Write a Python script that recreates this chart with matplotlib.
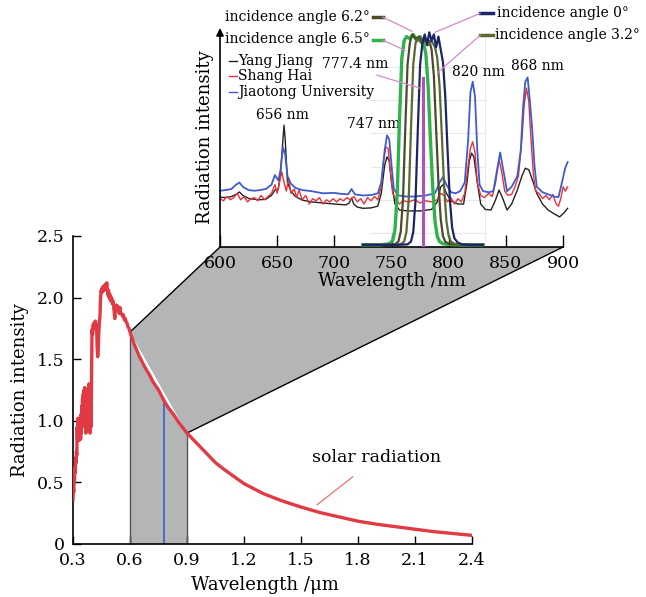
# LIBRARY IMPORT
import matplotlib
matplotlib.use('Agg')
import matplotlib.pyplot as plt
from matplotlib.patches import Polygon
from matplotlib.lines import Line2D
import numpy as np


# DATA
# Solar radiation spectrum (wavelength in um)
solar_wl = [0.300, 0.302, 0.304, 0.306, 0.308, 0.310, 0.312, 0.314, 0.316, 0.318,
            0.320, 0.322, 0.324, 0.326, 0.328, 0.330, 0.332, 0.334, 0.336, 0.338,
            0.340, 0.342, 0.344, 0.346, 0.348, 0.350, 0.352, 0.354, 0.356, 0.358,
            0.360, 0.362, 0.364, 0.366, 0.368, 0.370, 0.372, 0.374, 0.376, 0.378,
            0.380, 0.382, 0.384, 0.386, 0.388, 0.390, 0.392, 0.394, 0.396, 0.398,
            0.400, 0.403, 0.406, 0.409, 0.412, 0.415, 0.418, 0.421, 0.424, 0.427,
            0.430, 0.433, 0.436, 0.439, 0.442, 0.445, 0.448, 0.451, 0.454, 0.457,
            0.460, 0.463, 0.466, 0.469, 0.472, 0.475, 0.478, 0.481, 0.484, 0.487,
            0.490, 0.493, 0.496, 0.499, 0.502, 0.505, 0.508, 0.511, 0.514, 0.517,
            0.520, 0.523, 0.526, 0.529, 0.532, 0.535, 0.538, 0.541, 0.544, 0.547,
            0.550, 0.555, 0.560, 0.565, 0.570, 0.575, 0.580, 0.585, 0.590, 0.595,
            0.600, 0.620, 0.650, 0.680, 0.700, 0.720, 0.750, 0.777, 0.800, 0.830,
            0.860, 0.900, 0.950, 1.000, 1.050, 1.100, 1.200, 1.300, 1.400, 1.500,
            1.600, 1.700, 1.800, 1.900, 2.000, 2.100, 2.200, 2.300, 2.400]
solar_val = [0.36, 0.45, 0.42, 0.55, 0.52, 0.62, 0.58, 0.70, 0.66, 0.75,
             0.72, 0.95, 0.85, 1.02, 0.88, 1.00, 0.84, 1.02, 0.92, 0.98,
             0.85, 1.05, 0.90, 1.12, 0.95, 1.18, 1.00, 1.22, 1.05, 1.25,
             0.98, 1.27, 1.08, 1.20, 0.90, 1.22, 0.92, 1.15, 1.00, 1.25,
             1.10, 1.05, 1.30, 1.12, 1.20, 0.90, 1.15, 0.95, 1.05, 1.40,
             1.74, 1.70, 1.78, 1.75, 1.80, 1.77, 1.81, 1.74, 1.78, 1.60,
             1.52, 1.58, 1.72, 1.80, 1.85, 2.00, 2.06, 2.04, 2.08, 2.05,
             2.09, 2.06, 2.10, 2.07, 2.11, 2.08, 2.12, 2.05, 2.02, 2.06,
             2.00, 2.03, 1.98, 2.01, 1.97, 1.99, 1.95, 1.97, 1.93, 1.88,
             1.83, 1.90, 1.93, 1.94, 1.91, 1.93, 1.89, 1.90, 1.87, 1.92,
             1.88, 1.87, 1.85, 1.86, 1.82, 1.83, 1.80, 1.79, 1.76, 1.75,
             1.72, 1.63, 1.52, 1.43, 1.38, 1.32, 1.25, 1.17, 1.11, 1.05,
             0.98, 0.90, 0.82, 0.74, 0.66, 0.60, 0.49, 0.41, 0.35, 0.30,
             0.255, 0.22, 0.185, 0.16, 0.14, 0.12, 0.10, 0.085, 0.07]

band_lo = 0.6
band_hi = 0.9
line_um = 0.7774

# Station spectra (wavelength in nm)
blue_wl = [600, 605, 610, 614, 617, 620, 625, 630, 635, 640, 645, 648, 651, 653, 655,
           657, 659, 662, 666, 672, 680, 690, 700, 705, 712, 715, 718, 725, 732, 738,
           741, 744, 746, 748, 750, 752, 756, 762, 770, 780, 788, 792, 795, 798, 802,
           806, 810, 814, 817, 819, 821, 823, 825, 827, 830, 835, 839, 842, 845, 848,
           851, 855, 860, 863, 865, 867, 869, 871, 873, 875, 877, 882, 887, 892, 896,
           899, 902, 904]
blue_val = [0.262, 0.265, 0.27, 0.29, 0.30, 0.28, 0.265, 0.262, 0.265, 0.27, 0.29, 0.335, 0.31, 0.36, 0.465,
            0.43, 0.33, 0.295, 0.275, 0.265, 0.26, 0.25, 0.252, 0.248, 0.245, 0.27, 0.245, 0.24, 0.242, 0.25,
            0.30, 0.45, 0.52, 0.50, 0.38, 0.27, 0.24, 0.235, 0.235, 0.24, 0.25, 0.30, 0.326, 0.29, 0.255,
            0.25, 0.26, 0.30, 0.50, 0.72, 0.77, 0.70, 0.45, 0.29, 0.26, 0.255, 0.26, 0.35, 0.44, 0.35,
            0.26, 0.28, 0.33, 0.45, 0.65, 0.77, 0.79, 0.68, 0.55, 0.38, 0.28, 0.255, 0.245, 0.235, 0.232,
            0.30, 0.37, 0.395]

red_wl = [600, 603, 606, 609, 612, 615, 618, 621, 624, 627, 630, 633, 636, 639, 642,
          645, 648, 650, 652, 654, 656, 658, 660, 662, 665, 667, 669, 672, 675, 678,
          681, 684, 687, 690, 693, 696, 699, 702, 705, 708, 711, 714, 717, 720, 723,
          726, 729, 732, 735, 738, 741, 743, 745, 747, 749, 751, 754, 757, 760, 765,
          770, 775, 780, 785, 790, 793, 796, 799, 802, 805, 808, 811, 814, 817, 819,
          821, 823, 825, 828, 831, 835, 838, 841, 844, 846, 849, 852, 855, 858, 861,
          864, 866, 868, 870, 872, 874, 876, 879, 882, 885, 888, 891, 894, 896, 898,
          900, 902, 904]
red_val = [0.225, 0.215, 0.235, 0.22, 0.23, 0.25, 0.22, 0.235, 0.21, 0.225, 0.23, 0.215, 0.24, 0.22, 0.235,
           0.25, 0.29, 0.25, 0.30, 0.35, 0.30, 0.26, 0.32, 0.25, 0.27, 0.23, 0.265, 0.22, 0.24, 0.20,
           0.225, 0.215, 0.23, 0.20, 0.22, 0.21, 0.225, 0.21, 0.225, 0.215, 0.23, 0.22, 0.235, 0.21, 0.225,
           0.20, 0.23, 0.215, 0.235, 0.22, 0.28, 0.40, 0.465, 0.46, 0.35, 0.25, 0.22, 0.20, 0.215, 0.21,
           0.22, 0.205, 0.215, 0.21, 0.22, 0.25, 0.24, 0.21, 0.23, 0.20, 0.225, 0.21, 0.25, 0.38, 0.46,
           0.49, 0.44, 0.30, 0.24, 0.23, 0.25, 0.235, 0.30, 0.405, 0.36, 0.26, 0.24, 0.245, 0.28, 0.33,
           0.50, 0.66, 0.74, 0.68, 0.50, 0.34, 0.26, 0.25, 0.225, 0.24, 0.22, 0.245, 0.20, 0.19, 0.225,
           0.28, 0.26, 0.28]

black_wl = [600, 605, 610, 614, 617, 620, 625, 630, 635, 640, 645, 648, 651, 653, 655,
            656, 657, 659, 662, 666, 672, 680, 690, 700, 705, 710, 713, 715, 717, 720,
            725, 732, 738, 741, 744, 746, 748, 750, 753, 757, 765, 775, 785, 790, 793,
            795, 798, 802, 808, 813, 816, 818, 820, 822, 825, 828, 832, 837, 841, 844,
            847, 851, 855, 860, 864, 867, 870, 874, 877, 882, 887, 892, 897, 901, 904]
black_val = [0.232, 0.23, 0.235, 0.245, 0.256, 0.24, 0.226, 0.222, 0.22, 0.222, 0.24, 0.265, 0.27, 0.35, 0.50,
             0.567, 0.50, 0.30, 0.26, 0.235, 0.218, 0.21, 0.205, 0.20, 0.198, 0.196, 0.205, 0.228, 0.20, 0.186,
             0.18, 0.182, 0.19, 0.25, 0.38, 0.42, 0.40, 0.30, 0.20, 0.172, 0.168, 0.168, 0.175, 0.21, 0.28,
             0.29, 0.25, 0.215, 0.20, 0.20, 0.30, 0.40, 0.437, 0.42, 0.30, 0.20, 0.175, 0.172, 0.22, 0.265,
             0.23, 0.172, 0.20, 0.265, 0.33, 0.367, 0.36, 0.30, 0.25, 0.20, 0.172, 0.155, 0.14, 0.16, 0.18]

# Filter transmission at four incidence angles
filt_wl_65 = [725, 740, 748, 751, 753, 755, 757, 759, 761, 763, 766, 769, 772, 775, 778,
              780, 782, 784, 786, 788, 790, 792, 795, 800, 810, 830]
filt_val_65 = [0.01, 0.01, 0.015, 0.03, 0.08, 0.25, 0.60, 0.88, 0.96, 0.98, 0.97, 0.99, 0.96, 0.98, 0.95,
               0.90, 0.75, 0.50, 0.28, 0.12, 0.05, 0.025, 0.015, 0.012, 0.01, 0.01]
filt_wl_62 = [725, 745, 753, 756, 758, 760, 762, 764, 766, 768, 771, 774, 777, 780, 783,
              785, 787, 789, 791, 793, 795, 797, 800, 805, 815, 830]
filt_val_62 = [0.01, 0.01, 0.012, 0.025, 0.07, 0.22, 0.55, 0.85, 0.95, 0.99, 0.97, 0.98, 0.95, 0.97, 0.96,
               0.92, 0.80, 0.55, 0.30, 0.13, 0.05, 0.025, 0.015, 0.012, 0.01, 0.01]
filt_wl_32 = [725, 750, 758, 761, 763, 765, 767, 769, 771, 773, 776, 779, 782, 785, 788,
              790, 792, 794, 796, 798, 800, 802, 805, 810, 820, 830]
filt_val_32 = [0.01, 0.01, 0.012, 0.025, 0.07, 0.22, 0.55, 0.85, 0.95, 0.97, 0.95, 0.98, 0.94, 0.96, 0.93,
               0.88, 0.75, 0.52, 0.28, 0.12, 0.05, 0.025, 0.015, 0.012, 0.01, 0.01]
filt_wl_0 = [725, 755, 764, 767, 769, 771, 773, 775, 777, 779, 781, 783, 785, 787, 789,
             791, 793, 795, 797, 799, 801, 803, 805, 808, 812, 820, 830]
filt_val_0 = [0.01, 0.01, 0.012, 0.025, 0.07, 0.22, 0.55, 0.85, 0.95, 0.99, 0.94, 1.00, 0.96, 0.99, 0.93,
              0.98, 0.92, 0.86, 0.70, 0.45, 0.22, 0.09, 0.04, 0.02, 0.012, 0.01, 0.01]

# O I emission line
line_nm = 777.4
line_top = 0.786

# faint grid of the filter plot
filt_grid = [0.065, 0.219, 0.372, 0.53, 0.684, 0.837]

main_xticks = [0.3, 0.6, 0.9, 1.2, 1.5, 1.8, 2.1, 2.4]
main_xlabels = ['0.3', '0.6', '0.9', '1.2', '1.5', '1.8', '2.1', '2.4']
main_yticks = [0, 0.5, 1.0, 1.5, 2.0, 2.5]
main_ylabels = ['0', '0.5', '1.0', '1.5', '2.0', '2.5']
inset_xticks = [600, 650, 700, 750, 800, 850, 900]


# STYLE
plt.rcParams['font.family'] = ['DejaVu Serif']
plt.rcParams['mathtext.fontset'] = 'dejavuserif'

red = '#e23a45'
blue = '#3f5ccc'
grey = '#b4b5b7'
pink = '#d489c9'
c_65 = '#2fb24c'
c_62 = '#4a4a2c'
c_32 = '#5a6a32'
c_0 = '#1e2468'


# FIGURE
fig = plt.figure(figsize=(6.46, 5.97), dpi=100)
ax = fig.add_axes([0.113, 0.0888, 0.6176, 0.5159])
ax_in = fig.add_axes([0.3406, 0.5863, 0.531, 0.3668])

# main axes: solar spectrum
ax.set_xlim(0.3, 2.4)
ax.set_ylim(0, 2.5)
sw = np.array(solar_wl)
sv = np.array(solar_val)
in_band = (sw >= band_lo) & (sw <= band_hi)
ax.fill_between(sw[in_band], 0, sv[in_band], color=grey, lw=0, zorder=1)
y_lo = np.interp(band_lo, sw, sv)
y_hi = np.interp(band_hi, sw, sv)
ax.plot([band_lo, band_lo], [0, y_lo], color='#555555', lw=1, zorder=2)
ax.plot([band_hi, band_hi], [0, y_hi], color='#555555', lw=1, zorder=2)
ax.plot([line_um, line_um], [0, np.interp(line_um, sw, sv)], color=blue, lw=1.2, zorder=2)
ax.plot(sw, sv, color=red, lw=2.4, zorder=4, solid_joinstyle='round')

ax.annotate('solar radiation', xy=(1.584, 0.317), xytext=(1.9, 0.70),
            fontsize=12.5, ha='center', va='center',
            arrowprops=dict(arrowstyle='-', color='#f06060', lw=0.8,
                            shrinkA=9, shrinkB=0))

ax.set_xticks(main_xticks)
ax.set_xticklabels(main_xlabels)
ax.set_yticks(main_yticks)
ax.set_yticklabels(main_ylabels)
ax.tick_params(direction='in', length=6, width=1, labelsize=12.5, pad=6)
ax.spines['top'].set_visible(False)
ax.spines['right'].set_visible(False)
for s in ['left', 'bottom']:
    ax.spines[s].set_linewidth(1.2)
ax.set_xlabel('Wavelength /μm', fontsize=13, labelpad=3)
ax.xaxis.set_label_coords(0.48, -0.105)
ax.set_ylabel('Radiation intensity', fontsize=13, labelpad=6)
ax.patch.set_alpha(0)

# inset axes: station spectra and filter curves
ax_in.set_xlim(600, 900)
ax_in.set_ylim(0, 1.02)
ax_in.hlines(filt_grid, 731, 832, color='#e8e8e8', lw=0.8, zorder=0)
ax_in.vlines([832], 0.03, 0.99, color='#e8e8e8', lw=0.8, zorder=0)

ax_in.plot(black_wl, black_val, color='#222222', lw=1.0, clip_on=False, zorder=2)
ax_in.plot(red_wl, red_val, color='#e8323a', lw=1.0, clip_on=False, zorder=3)
ax_in.plot(blue_wl, blue_val, color=blue, lw=1.3, clip_on=False, zorder=3)

ax_in.plot(filt_wl_65, filt_val_65, color=c_65, lw=2.4, zorder=4)
ax_in.plot(filt_wl_62, filt_val_62, color=c_62, lw=1.6, zorder=5)
ax_in.plot(filt_wl_32, filt_val_32, color=c_32, lw=1.6, zorder=5)
ax_in.plot(filt_wl_0, filt_val_0, color=c_0, lw=1.6, zorder=5)
ax_in.plot([line_nm, line_nm], [0, line_top], color='#b050c0', lw=2.2, zorder=6)

# peak labels
ax_in.text(655, 0.614, '656 nm', fontsize=10, ha='center', va='center')
ax_in.text(734, 0.572, '747 nm', fontsize=10, ha='center', va='center')
ax_in.text(825.6, 0.814, '820 nm', fontsize=10, ha='center', va='center')
ax_in.text(877.3, 0.842, '868 nm', fontsize=10, ha='center', va='center')
ax_in.text(718, 0.851, '777.4 nm', fontsize=10, ha='center', va='center')
ax_in.plot([737.3, 774.9], [0.80, 0.74], color=pink, lw=0.9, zorder=7)

# station legend
stations = [('Yang Jiang', '#222222', 0.865), ('Shang Hai', '#e8323a', 0.795),
            ('Jiaotong University', blue, 0.721)]
for name, col, yy in stations:
    ax_in.plot([608, 615], [yy, yy], color=col, lw=1.0, clip_on=False)
    ax_in.text(615.7, yy, name, fontsize=10, ha='left', va='center')

# incidence angle labels
ax_in.text(731.2, 1.07, 'incidence angle 6.2°', fontsize=10, ha='right', va='center')
ax_in.plot([733.8, 742.5], [1.07, 1.07], color=c_62, lw=2.5, clip_on=False)
ax_in.plot([742.5, 767.9], [1.07, 1.005], color=pink, lw=0.9, clip_on=False, zorder=7)

ax_in.text(731.2, 0.967, 'incidence angle 6.5°', fontsize=10, ha='right', va='center')
ax_in.plot([733.8, 742.5], [0.963, 0.963], color=c_65, lw=2.5, clip_on=False)
ax_in.plot([742.5, 761.8], [0.963, 0.916], color=pink, lw=0.9, clip_on=False, zorder=7)

ax_in.text(842.3, 1.088, 'incidence angle 0°', fontsize=10, ha='left', va='center')
ax_in.plot([827.4, 838.8], [1.088, 1.088], color=c_0, lw=2.5, clip_on=False)
ax_in.plot([827.4, 788.0], [1.088, 1.0], color=pink, lw=0.9, clip_on=False, zorder=7)

ax_in.text(840.5, 0.986, 'incidence angle 3.2°', fontsize=10, ha='left', va='center')
ax_in.plot([827.4, 838.8], [0.986, 0.986], color=c_32, lw=2.5, clip_on=False)
ax_in.plot([827.4, 790.6], [0.986, 0.814], color=pink, lw=0.9, clip_on=False, zorder=7)

ax_in.set_xticks(inset_xticks)
ax_in.set_yticks([])
ax_in.tick_params(axis='x', direction='in', length=9, width=1, labelsize=12.5, pad=6)
ax_in.spines['top'].set_visible(False)
ax_in.spines['right'].set_visible(False)
ax_in.spines['left'].set_visible(False)
ax_in.spines['bottom'].set_linewidth(1.2)
ax_in.annotate('', xy=(0, 1.0), xycoords='axes fraction', xytext=(0, 0),
               textcoords='axes fraction',
               arrowprops=dict(arrowstyle='-|>', color='k', lw=1.2,
                               mutation_scale=11, shrinkA=0, shrinkB=0))
ax_in.set_xlabel('Wavelength /nm', fontsize=13, labelpad=0)
ax_in.set_ylabel('Radiation intensity', fontsize=13, labelpad=4)
ax_in.patch.set_alpha(0)

# grey connector between the band and the inset axis
to_fig = fig.transFigure.inverted()
p_a = to_fig.transform(ax.transData.transform((band_lo, y_lo)))
p_b = to_fig.transform(ax_in.transData.transform((600, 0)))
p_c = to_fig.transform(ax_in.transData.transform((900, 0)))
p_d = to_fig.transform(ax.transData.transform((band_hi, y_hi)))
ax.add_patch(Polygon([p_a, p_b, p_c, p_d], closed=True, facecolor=grey,
                     edgecolor='none', transform=fig.transFigure,
                     clip_on=False, zorder=1))
for p, q in [(p_a, p_b), (p_d, p_c)]:
    ax.add_line(Line2D([p[0], q[0]], [p[1], q[1]], color='k', lw=1.0,
                       transform=fig.transFigure, clip_on=False, zorder=3))

fig.savefig('out.png', dpi=100)
